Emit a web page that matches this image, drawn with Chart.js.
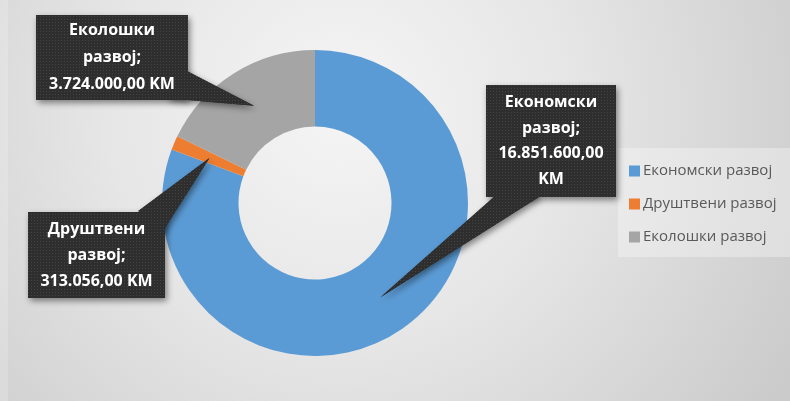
<!DOCTYPE html>
<html>
<head>
<meta charset="utf-8">
<script src="https://cdn.jsdelivr.net/npm/chart.js@4.4.1/dist/chart.umd.min.js"></script>
<style>
	html, body { margin: 0; padding: 0; background: #e0e0e0; }
	#wrap { width: 790px; height: 401px; }
</style>
</head>
<body>
<div id="wrap"><canvas id="razvoj-chart" width="790" height="401"></canvas></div>
<script>
"use strict";

// chart data
const categories = ['Економски развој', 'Друштвени развој', 'Еколошки развој'];
const amounts = [16851600, 313056, 3724000];
const sliceColors = ['#5B9BD5', '#ED7D31', '#A5A5A5'];
const currency = 'KM';

// callout boxes (layout only): box rect, wedge anchor, wedge half width
const calloutBoxes = [
	{ x: 486, y: 85, w: 130, h: 112, ax: 530, ay: 185, hw: 15, lineH: 25.5, splitUnit: true },
	{ x: 28, y: 212, w: 137, h: 86, ax: 150, ay: 222, hw: 16, lineH: 26, splitUnit: false },
	{ x: 36, y: 15, w: 152, h: 85, ax: 172, ay: 82, hw: 17, lineH: 27, splitUnit: false }
];

function formatKM(v) {
	let s = Math.round(v).toString();
	let out = '';
	while (s.length > 3) {
		out = '.' + s.slice(-3) + out;
		s = s.slice(0, -3);
	}
	return s + out + ',00';
}

// dotted texture for callout boxes
let dotCanvas = document.createElement('canvas');
dotCanvas.width = 3;
dotCanvas.height = 3;
let dctx = dotCanvas.getContext('2d');
dctx.fillStyle = '#2e2e2e';
dctx.fillRect(0, 0, 3, 3);
dctx.fillStyle = '#444444';
dctx.fillRect(1, 1, 1, 1);

const backgroundPlugin = {
	id: 'bgGradient',
	beforeDraw: function(chart) {
		let ctx = chart.ctx;
		ctx.save();
		let g = ctx.createRadialGradient(340, 110, 0, 340, 110, 520);
		g.addColorStop(0, '#f5f5f5');
		g.addColorStop(0.45, '#e6e6e6');
		g.addColorStop(1, '#cbcbcb');
		ctx.fillStyle = g;
		ctx.fillRect(0, 0, chart.width, chart.height);
		// thin left edge strip
		ctx.fillStyle = 'rgba(255,255,255,0.18)';
		ctx.fillRect(0, 0, 8, chart.height);
		ctx.restore();
	}
};

const legendPlugin = {
	id: 'sideLegend',
	afterDraw: function(chart) {
		let ctx = chart.ctx;
		ctx.save();
		ctx.fillStyle = 'rgba(255,255,255,0.32)';
		ctx.fillRect(618, 148, 172, 109);
		let rows = [171, 204, 237];
		ctx.font = '15px "Open Sans"';
		ctx.textBaseline = 'middle';
		for (let i = 0; i < categories.length; i++) {
			ctx.fillStyle = sliceColors[i];
			ctx.fillRect(629, rows[i] - 5.5, 11, 11);
			ctx.fillStyle = '#595959';
			ctx.fillText(categories[i], 643, rows[i]);
		}
		ctx.restore();
	}
};

const calloutPlugin = {
	id: 'callouts',
	afterDraw: function(chart) {
		let ctx = chart.ctx;
		let meta = chart.getDatasetMeta(0);
		let pattern = ctx.createPattern(dotCanvas, 'repeat');
		meta.data.forEach(function(arc, i) {
			let b = calloutBoxes[i];
			let tip = arc.tooltipPosition();
			// wedge base perpendicular to direction anchor -> tip
			let dx = tip.x - b.ax, dy = tip.y - b.ay;
			let len = Math.sqrt(dx * dx + dy * dy);
			let px = -dy / len * b.hw, py = dx / len * b.hw;

			ctx.save();
			ctx.shadowColor = 'rgba(0,0,0,0.45)';
			ctx.shadowBlur = 6;
			ctx.shadowOffsetX = 2;
			ctx.shadowOffsetY = 3;
			ctx.fillStyle = pattern;
			ctx.beginPath();
			ctx.moveTo(b.ax + px, b.ay + py);
			ctx.lineTo(tip.x, tip.y);
			ctx.lineTo(b.ax - px, b.ay - py);
			ctx.closePath();
			ctx.fill();
			ctx.fillRect(b.x, b.y, b.w, b.h);
			ctx.restore();

			ctx.save();
			ctx.fillStyle = pattern;
			ctx.beginPath();
			ctx.moveTo(b.ax + px, b.ay + py);
			ctx.lineTo(tip.x, tip.y);
			ctx.lineTo(b.ax - px, b.ay - py);
			ctx.closePath();
			ctx.fill();

			let words = categories[i].split(' ');
			let lines = [words[0], words[1] + ';'];
			if (b.splitUnit) {
				lines.push(formatKM(amounts[i]));
				lines.push(currency);
			} else {
				lines.push(formatKM(amounts[i]) + ' ' + currency);
			}
			ctx.font = 'bold 16px "Open Sans"';
			ctx.fillStyle = '#ffffff';
			ctx.textAlign = 'center';
			ctx.textBaseline = 'middle';
			let cx = b.x + b.w / 2;
			let top = b.y + b.h / 2 - (lines.length - 1) * b.lineH / 2;
			lines.forEach(function(t, k) {
				ctx.fillText(t, cx, top + k * b.lineH);
			});
			ctx.restore();
		});
	}
};

let ctx = document.getElementById('razvoj-chart');
let razvojChart = new Chart(ctx, {
	type: 'doughnut',
	data: {
		labels: categories,
		datasets: [{
			data: amounts,
			backgroundColor: sliceColors,
			borderWidth: 0,
			hoverOffset: 0
		}]
	},
	options: {
		responsive: false,
		animation: false,
		cutout: '50%',
		layout: {
			padding: { left: 162, right: 322, top: 50, bottom: 45 }
		},
		plugins: {
			legend: { display: false },
			tooltip: { enabled: false }
		}
	},
	plugins: [backgroundPlugin, legendPlugin, calloutPlugin]
});
</script>
</body>
</html>
